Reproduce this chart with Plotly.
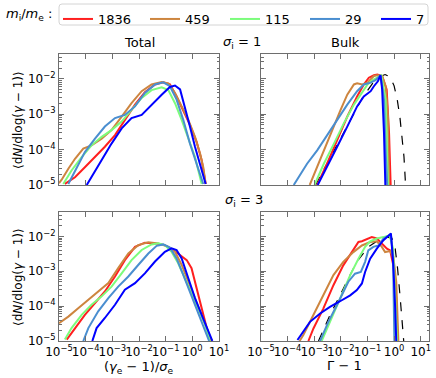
import numpy as np
import plotly.graph_objects as go

# mass ratios m_i/m_e and their line colours
mass_ratios = ["1836", "459", "115", "29", "7"]
colors = ["#ff1f1f", "#cd853f", "#7cfc7c", "#4a8ed0", "#0000ff"]

# values below are log10 of the plotted quantities
# --- Total, sigma_i = 1 ---
tot1_1836_x = [-4.78, -4.4, -4.03, -3.65, -3.28, -2.9, -2.53, -2.15, -1.78, -1.4, -1.09, -0.84, -0.59, -0.34, -0.09, 0.16, 0.35, 0.5]
tot1_1836_y = [-4.97, -4.78, -4.5, -4.21, -3.92, -3.59, -3.16, -2.73, -2.38, -2.16, -2.1, -2.16, -2.5, -2.88, -3.3, -3.78, -4.3, -4.97]
tot1_459_x = [-5.0, -4.9, -4.65, -4.4, -4.09, -3.78, -3.4, -3.03, -2.65, -2.28, -1.9, -1.53, -1.15, -0.9, -0.65, -0.4, -0.15, 0.1, 0.29, 0.41, 0.5]
tot1_459_y = [-4.95, -4.85, -4.54, -4.26, -3.97, -3.88, -3.69, -3.45, -3.07, -2.69, -2.35, -2.16, -2.09, -2.13, -2.4, -2.78, -3.16, -3.64, -4.11, -4.5, -4.97]
tot1_115_x = [-4.84, -4.53, -4.15, -3.78, -3.4, -3.03, -2.65, -2.28, -1.9, -1.53, -1.15, -0.9, -0.65, -0.4, -0.15, 0.1, 0.35]
tot1_115_y = [-4.97, -4.59, -4.21, -3.88, -3.64, -3.45, -3.21, -2.88, -2.54, -2.32, -2.24, -2.32, -2.69, -3.16, -3.69, -4.21, -4.97]
tot1_29_x = [-4.65, -4.4, -4.03, -3.65, -3.28, -2.9, -2.53, -2.15, -1.78, -1.4, -1.09, -0.84, -0.59, -0.34, -0.09, 0.16, 0.41]
tot1_29_y = [-4.97, -4.59, -4.07, -3.69, -3.35, -3.11, -3.02, -2.78, -2.4, -2.16, -2.1, -2.21, -2.59, -3.16, -3.83, -4.4, -4.97]
tot1_7_x = [-3.96, -3.71, -3.4, -3.03, -2.65, -2.28, -1.9, -1.53, -1.15, -0.84, -0.65, -0.46, -0.28, -0.09, 0.1, 0.29, 0.5]
tot1_7_y = [-5.0, -4.69, -4.3, -3.83, -3.4, -3.11, -3.02, -2.73, -2.45, -2.23, -2.19, -2.3, -2.78, -3.35, -3.92, -4.4, -4.97]

# --- Bulk, sigma_i = 1 ---
bulk1_1836_x = [-2.89, -2.52, -2.14, -1.76, -1.39, -1.14, -0.95, -0.76, -0.63, -0.45, -0.28, -0.19, -0.13]
bulk1_1836_y = [-5.0, -4.4, -3.73, -3.07, -2.5, -2.16, -1.97, -1.9, -1.88, -1.92, -2.3, -3.54, -5.0]
bulk1_459_x = [-3.17, -2.95, -2.64, -2.33, -2.01, -1.76, -1.51, -1.39, -1.2, -1.0, -0.76, -0.63, -0.45, -0.32, -0.23, -0.19]
bulk1_459_y = [-5.0, -4.59, -4.02, -3.45, -2.88, -2.45, -2.16, -2.13, -2.16, -2.11, -1.92, -1.9, -1.92, -2.21, -3.07, -5.0]
bulk1_115_x = [-2.99, -2.64, -2.26, -1.89, -1.51, -1.26, -1.0, -0.82, -0.63, -0.48, -0.32, -0.23]
bulk1_115_y = [-5.0, -4.4, -3.83, -3.26, -2.73, -2.45, -2.16, -2.04, -1.97, -1.9, -2.59, -5.0]
bulk1_29_x = [-3.77, -3.58, -3.27, -2.89, -2.52, -2.14, -1.76, -1.39, -1.14, -0.88, -0.7, -0.51, -0.38, -0.32, -0.26]
bulk1_29_y = [-5.0, -4.78, -4.4, -4.02, -3.59, -3.16, -2.73, -2.35, -2.16, -2.11, -2.04, -1.9, -2.59, -4.02, -5.0]
bulk1_7_x = [-2.87, -2.52, -2.14, -1.76, -1.39, -1.14, -0.88, -0.76, -0.61, -0.51, -0.45, -0.38, -0.33]
bulk1_7_y = [-5.0, -4.5, -3.92, -3.35, -2.78, -2.5, -2.35, -2.21, -2.07, -1.9, -2.3, -3.54, -5.0]
bulk1_fit_x = [-2.95, -2.3, -1.7, -1.2, -0.8, -0.5, -0.34, -0.15, 0.0, 0.12, 0.22, 0.3, 0.37, 0.43]
bulk1_fit_y = [-5.0, -4.1, -3.25, -2.55, -2.12, -1.93, -1.88, -1.95, -2.2, -2.6, -3.1, -3.6, -4.2, -5.0]

# --- Total, sigma_i = 3 ---
tot3_1836_x = [-4.71, -4.4, -4.03, -3.65, -3.28, -2.9, -2.53, -2.15, -1.78, -1.4, -1.03, -0.71, -0.46, -0.21, -0.03, 0.16, 0.35, 0.54, 0.7]
tot3_1836_y = [-4.96, -4.63, -4.25, -3.91, -3.58, -3.15, -2.68, -2.3, -2.18, -2.2, -2.25, -2.39, -2.53, -2.68, -2.91, -3.49, -4.06, -4.63, -5.0]
tot3_459_x = [-5.0, -4.65, -4.28, -3.9, -3.53, -3.15, -2.78, -2.4, -2.03, -1.65, -1.28, -0.9, -0.65, -0.4, -0.15, 0.1, 0.35, 0.6, 0.73]
tot3_459_y = [-4.49, -4.3, -4.06, -3.82, -3.58, -3.34, -2.91, -2.49, -2.25, -2.17, -2.2, -2.3, -2.44, -2.82, -3.3, -3.77, -4.25, -4.72, -5.0]
tot3_115_x = [-4.78, -4.53, -4.15, -3.78, -3.4, -3.03, -2.65, -2.28, -1.9, -1.53, -1.28, -1.03, -0.78, -0.53, -0.28, -0.03, 0.23, 0.48, 0.66]
tot3_115_y = [-4.96, -4.63, -4.25, -3.96, -3.72, -3.44, -3.06, -2.68, -2.39, -2.23, -2.2, -2.25, -2.44, -2.77, -3.2, -3.63, -4.06, -4.53, -5.0]
tot3_29_x = [-4.09, -3.9, -3.53, -3.15, -2.78, -2.4, -2.03, -1.65, -1.34, -1.09, -0.84, -0.59, -0.34, -0.09, 0.16, 0.41, 0.63]
tot3_29_y = [-5.0, -4.63, -4.15, -3.77, -3.44, -3.15, -2.82, -2.49, -2.27, -2.23, -2.32, -2.63, -3.1, -3.58, -4.06, -4.53, -5.0]
tot3_7_x = [-3.75, -3.59, -3.28, -2.9, -2.53, -2.15, -1.78, -1.4, -1.03, -0.78, -0.59, -0.4, -0.15, 0.1, 0.35, 0.6, 0.75]
tot3_7_y = [-5.0, -4.63, -4.34, -3.96, -3.53, -3.34, -3.06, -2.72, -2.44, -2.34, -2.39, -2.63, -3.2, -3.77, -4.25, -4.72, -5.0]

# --- Bulk, sigma_i = 3 ---
bulk3_1836_x = [-3.22, -3.03, -2.66, -2.28, -1.91, -1.59, -1.34, -1.21, -1.03, -0.84, -0.65, -0.46, -0.27, -0.15, -0.03, 0.08, 0.13]
bulk3_1836_y = [-5.0, -4.64, -4.07, -3.4, -2.83, -2.45, -2.16, -2.14, -2.09, -2.02, -2.06, -2.21, -2.35, -2.4, -2.83, -3.78, -5.0]
bulk3_459_x = [-3.55, -3.41, -3.16, -2.97, -2.66, -2.28, -1.91, -1.53, -1.21, -0.9, -0.65, -0.46, -0.34, -0.15, -0.03, 0.08, 0.16]
bulk3_459_y = [-5.0, -4.83, -4.45, -4.16, -3.69, -3.11, -2.73, -2.45, -2.26, -2.16, -2.14, -2.3, -2.45, -2.42, -2.58, -3.3, -5.0]
bulk3_115_x = [-2.72, -2.41, -2.03, -1.65, -1.34, -1.09, -0.9, -0.65, -0.4, -0.17, -0.04, 0.04, 0.11]
bulk3_115_y = [-5.0, -4.45, -3.78, -3.11, -2.64, -2.3, -2.14, -2.06, -2.02, -1.97, -2.35, -3.78, -5.0]
bulk3_29_x = [-2.78, -2.47, -2.09, -1.72, -1.47, -1.25, -1.09, -0.97, -0.78, -0.59, -0.4, -0.21, -0.12, -0.04, 0.01]
bulk3_29_y = [-5.0, -4.45, -3.88, -3.3, -3.07, -3.02, -2.73, -2.4, -2.3, -2.26, -2.06, -1.97, -1.95, -2.64, -5.0]
bulk3_7_x = [-3.63, -3.41, -3.16, -2.78, -2.41, -2.03, -1.65, -1.4, -1.21, -1.09, -0.9, -0.65, -0.4, -0.12, -0.03, 0.04, 0.08]
bulk3_7_y = [-4.97, -4.73, -4.45, -4.21, -4.02, -3.86, -3.69, -3.54, -3.35, -3.02, -2.64, -2.35, -2.11, -1.92, -2.83, -4.06, -5.0]
bulk3_fit_x = [-2.84, -2.41, -1.91, -1.4, -0.97, -0.59, -0.27, -0.08, 0.04, 0.13, 0.23, 0.3, 0.36]
bulk3_fit_y = [-5.0, -4.26, -3.5, -2.73, -2.3, -2.11, -2.02, -2.05, -2.35, -2.92, -3.78, -4.45, -5.0]

panels = [
    ("x", "y", [(tot1_1836_x, tot1_1836_y), (tot1_459_x, tot1_459_y), (tot1_115_x, tot1_115_y),
                (tot1_29_x, tot1_29_y), (tot1_7_x, tot1_7_y)], None),
    ("x2", "y2", [(bulk1_1836_x, bulk1_1836_y), (bulk1_459_x, bulk1_459_y), (bulk1_115_x, bulk1_115_y),
                  (bulk1_29_x, bulk1_29_y), (bulk1_7_x, bulk1_7_y)], (bulk1_fit_x, bulk1_fit_y)),
    ("x3", "y3", [(tot3_1836_x, tot3_1836_y), (tot3_459_x, tot3_459_y), (tot3_115_x, tot3_115_y),
                  (tot3_29_x, tot3_29_y), (tot3_7_x, tot3_7_y)], None),
    ("x4", "y4", [(bulk3_1836_x, bulk3_1836_y), (bulk3_459_x, bulk3_459_y), (bulk3_115_x, bulk3_115_y),
                  (bulk3_29_x, bulk3_29_y), (bulk3_7_x, bulk3_7_y)], (bulk3_fit_x, bulk3_fit_y)),
]

W, H = 436, 378
FONT = "DejaVu Sans"
AX = "#6e6e6e"

# legend entries: one small legend per mass ratio, so spacing can follow the original
legend_ids = ["legend", "legend2", "legend3", "legend4", "legend5"]
legend_x_px = [63, 150, 230, 310, 381]

fig = go.Figure()

for i, (xa, ya, series, fit) in enumerate(panels):
    if fit is not None:
        fig.add_trace(go.Scatter(
            x=10 ** np.array(fit[0]), y=10 ** np.array(fit[1]), xaxis=xa, yaxis=ya,
            mode="lines", line=dict(color="black", width=1.2, dash="dash"), showlegend=False))
    for j, ((sx, sy), name, c) in enumerate(zip(series, mass_ratios, colors)):
        fig.add_trace(go.Scatter(
            x=10 ** np.array(sx), y=10 ** np.array(sy), xaxis=xa, yaxis=ya,
            mode="lines", name=name, line=dict(color=c, width=2),
            legend=legend_ids[j], showlegend=(i == 0)))


def sup(e):
    return "10<sup>" + str(e).replace("-", "\u2212") + "</sup>"


x_ticks = [10.0 ** e for e in range(-5, 2)]
x_text = [sup(e) for e in range(-5, 2)]
y_ticks = [10.0 ** e for e in range(-5, -1)]
y_text = [sup(e) for e in range(-5, -1)]
y_minor = [k * 10.0 ** e for e in range(-5, -1) for k in range(2, 10)]

# panel boxes in pixels: left, right, top, bottom
boxes = {
    "": (59, 219, 54, 185),
    "2": (261, 429, 54, 185),
    "3": (59, 219, 212, 341),
    "4": (261, 429, 212, 341),
}
x_ranges = {"": [-5, 1], "2": [-5, 1.31], "3": [-5, 1], "4": [-5, 1.31]}

layout = {}
for k, (l, r, t, b) in boxes.items():
    bottom_row = k in ("3", "4")
    left_col = k in ("", "3")
    layout["xaxis" + k] = dict(
        type="log", range=x_ranges[k], domain=[l / W, r / W], anchor="y" + k,
        tickvals=x_ticks, ticktext=x_text, showticklabels=bottom_row, tickangle=0,
        ticks="inside", ticklen=5, tickcolor=AX, showline=True, linecolor=AX,
        linewidth=1, mirror="ticks", showgrid=False, zeroline=False, automargin=False,
        tickfont=dict(family=FONT, size=12, color="black"),
    )
    layout["yaxis" + k] = dict(
        type="log", range=[-5, -1.3], domain=[1 - b / H, 1 - t / H], anchor="x" + k,
        tickvals=y_ticks, ticktext=y_text, showticklabels=left_col,
        ticks="inside", ticklen=5, tickcolor=AX, showline=True, linecolor=AX,
        linewidth=1, mirror="ticks", showgrid=False, zeroline=False, automargin=False,
        minor=dict(tickvals=y_minor, ticks="inside", ticklen=2.5, tickcolor=AX, showgrid=False),
        tickfont=dict(family=FONT, size=12, color="black"),
    )

for lid, lx in zip(legend_ids, legend_x_px):
    layout[lid] = dict(x=(lx - 5) / W, y=1 - 4 / H, xanchor="left", yanchor="top",
                       orientation="h", borderwidth=0, bgcolor="rgba(0,0,0,0)",
                       font=dict(family=FONT, size=13, color="black"))

fig.update_layout(**layout)

ylab = "\u27e8d<i>N</i>/dlog(<i>\u03b3</i> \u2212 1)\u27e9"
ann = [
    ("Total", 139, 43, 13, 0),
    ("Bulk", 345, 43, 13, 0),
    ("<i>\u03c3</i><sub>i</sub> = 1", 242, 43, 13, 0),
    ("<i>\u03c3</i><sub>i</sub> = 3", 244, 200, 13, 0),
    ("<i>m</i><sub>i</sub>/<i>m</i><sub>e</sub> :", 29, 15, 13, 0),
    (ylab, 18, 120, 12, -90),
    (ylab, 18, 277, 12, -90),
    ("(<i>\u03b3</i><sub>e</sub> \u2212 1)/<i>\u03c3</i><sub>e</sub>", 139, 367, 13, 0),
    ("\u0393 \u2212 1", 344, 365, 13, 0),
]
for text, ax_px, ay_px, fs, ang in ann:
    fig.add_annotation(text=text, x=ax_px / W, y=1 - ay_px / H, xref="paper", yref="paper",
                       xanchor="center", yanchor="middle", showarrow=False, textangle=ang,
                       font=dict(family=FONT, size=fs, color="black"))

# rounded frame around the legend row
x0, x1, y0, y1, rr = 59, 428, 4, 25, 3
def px(x):
    return x / W
def py(y):
    return 1 - y / H
frame = (f"M{px(x0 + rr)},{py(y0)} L{px(x1 - rr)},{py(y0)} Q{px(x1)},{py(y0)} {px(x1)},{py(y0 + rr)} "
         f"L{px(x1)},{py(y1 - rr)} Q{px(x1)},{py(y1)} {px(x1 - rr)},{py(y1)} "
         f"L{px(x0 + rr)},{py(y1)} Q{px(x0)},{py(y1)} {px(x0)},{py(y1 - rr)} "
         f"L{px(x0)},{py(y0 + rr)} Q{px(x0)},{py(y0)} {px(x0 + rr)},{py(y0)} Z")
fig.add_shape(type="path", path=frame, xref="paper", yref="paper",
              line=dict(color="#d4d4d4", width=1), layer="below")

fig.update_layout(
    width=W, height=H,
    margin=dict(l=0, r=0, t=0, b=0),
    paper_bgcolor="white", plot_bgcolor="white",
    font=dict(family=FONT, color="black"),
)

# the page body has a default 8px margin; drop it so the figure sits at the window corner
fig.write_html("out.html", config={"displayModeBar": False},
               post_script="document.body.style.margin='0';")
